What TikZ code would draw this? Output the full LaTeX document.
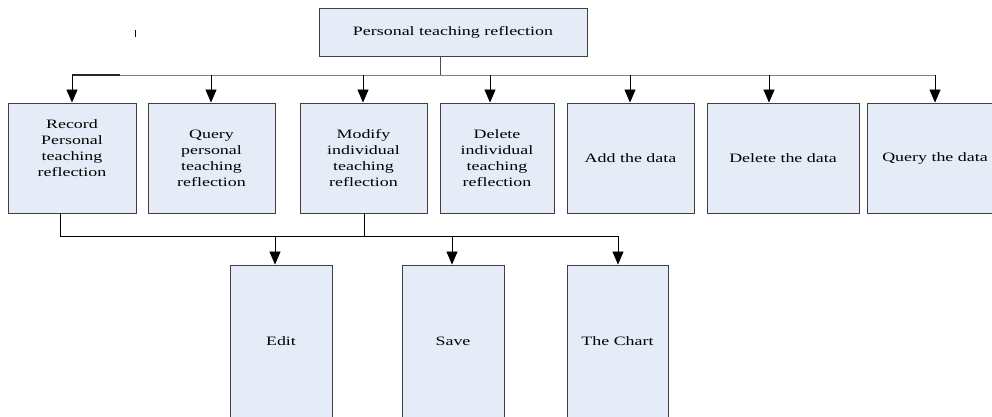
\documentclass[tikz,border=0pt]{standalone}
\usepackage{fontspec}
\setmainfont{Liberation Serif}[FakeStretch=1.4]
\usetikzlibrary{arrows.meta}

\definecolor{boxblue}{RGB}{230,236,247}
\definecolor{busgray}{RGB}{128,128,128}

\tikzset{
  box/.style={draw=black!75, fill=boxblue, line width=0.9pt, align=center,
    inner sep=2pt, font=\fontsize{12.8}{16}\selectfont},
  arr/.style={-{Triangle[length=13pt,width=11pt]}, line width=0.8pt},
}

\begin{document}
\begin{tikzpicture}[x=1pt,y=-1pt]
\useasboundingbox (0,0) rectangle (992,416);
\clip (0,0) rectangle (992,416);

% root
\node[box, minimum width=268pt, minimum height=48pt] (ptr) at (453,32) {Personal teaching reflection};
\draw[line width=1pt] (135,30) -- (135,37);

% first level
\foreach \name/\cx/\w/\txt in {
    rec/72/128/{Record\\Personal\\teaching\\reflection\\[3pt]\mbox{}},
    qry/211.5/127/{Query\\personal\\teaching\\reflection},
    mod/363.5/127/{Modify\\individual\\teaching\\reflection},
    del/497/114/{Delete\\individual\\teaching\\reflection},
    add/630.5/127/{Add the data},
    deld/783/152/{Delete the data},
    qd/935/136/{Query the data}}
  \node[box, minimum width=\w pt, minimum height=110pt] (\name) at (\cx,158) {\txt};

% bus
\coordinate (bus) at (440,75);
\draw[black!70, line width=0.8pt] (ptr.south -| bus) -- (bus);
\draw[busgray, line width=0.8pt] (72,75) -- (935,75);
\draw[black!85, line width=1.6pt] (72,75) -- (120,75);

\foreach \name/\ax in {rec/72, qry/211, mod/363, del/490, add/630, deld/769, qd/935} {
  \coordinate (t\name) at (\ax,75);
  \draw[arr] (t\name) -- (t\name |- \name.north);
}

% second level
\node[box, minimum width=102pt, minimum height=153pt] (edit) at (281,341.5) {Edit};
\node[box, minimum width=102pt, minimum height=153pt] (save) at (453,341.5) {Save};
\node[box, minimum width=101pt, minimum height=153pt] (chart) at (617.5,341.5) {The Chart};

\coordinate (lowL) at (60,236);
\coordinate (lowM) at (364,236);
\coordinate (lowR) at (618,236);
\draw[line width=0.8pt] (rec.south -| lowL) -- (lowL) -- (lowR);
\draw[line width=0.8pt] (mod.south -| lowM) -- (lowM);

\foreach \name/\ax in {edit/275, save/452, chart/618} {
  \coordinate (b\name) at (\ax,236);
  \draw[arr] (b\name) -- (b\name |- \name.north);
}
\end{tikzpicture}
\end{document}
